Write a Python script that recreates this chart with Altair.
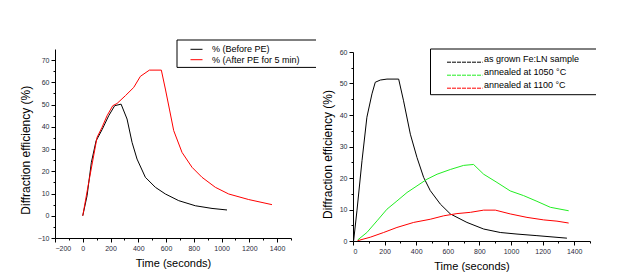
import altair as alt
import pandas as pd

# ---------------- data: left panel ----------------
before_t = [0, 31, 62, 96, 139, 187, 230, 276, 319, 355, 391, 451, 523, 595, 691, 811, 931, 1039]
before_v = [0, 9, 24, 33.7, 38.7, 45, 49.5, 50.2, 43.5, 33, 25.5, 17.3, 12.8, 9.8, 6.8, 4.5, 3.3, 2.6]

after_t = [0, 43, 103, 139, 175, 216, 247, 307, 367, 415, 480, 566, 595, 624, 655, 715, 787, 859, 955, 1051, 1195, 1363]
after_v = [0, 15, 35.3, 39.8, 45, 49.5, 50.5, 54, 57.7, 62.7, 65.5, 65.5, 57, 48, 38.3, 28.5, 21.8, 17.3, 12.8, 9.8, 7.3, 5]

left_labels = ["% (Before PE)", "% (After PE for 5 min)"]
left_colors = ["#000000", "#ff0000"]

# ---------------- data: right panel ----------------
grown_t = [4, 25, 57, 88, 120, 141, 173, 215, 289, 320, 363, 405, 447, 489, 553, 616, 721, 827, 932, 1038, 1164, 1354]
grown_v = [0.1, 9.6, 25.5, 39.3, 46.7, 50.4, 51.1, 51.4, 51.4, 44.5, 33.9, 26.5, 20.2, 16, 11.7, 8.6, 5.9, 3.8, 2.7, 2.2, 1.7, 0.9]

a1050_t = [29, 88, 152, 215, 278, 342, 405, 468, 532, 616, 700, 763, 827, 911, 995, 1080, 1164, 1249, 1365]
a1050_v = [0.3, 2.7, 6.4, 10.1, 12.7, 15.4, 17.5, 19.6, 21.2, 22.7, 24, 24.3, 21.2, 18.6, 15.9, 14.4, 12.6, 10.7, 9.6]

a1100_t = [29, 109, 194, 278, 384, 489, 574, 658, 743, 827, 901, 995, 1101, 1207, 1291, 1365]
a1100_v = [0.1, 1.2, 2.7, 4.3, 5.9, 6.9, 8.0, 8.7, 9.1, 9.8, 9.8, 8.6, 7.5, 6.7, 6.3, 5.7]

right_labels = ["as grown Fe:LN sample", "annealed at 1050 \u00b0C", "annealed at 1100 \u00b0C"]
right_colors = ["#000000", "#22ee22", "#ff0000"]

left_x_ticks = list(range(-200, 1501, 100))
left_y_ticks = list(range(-10, 71, 5))
right_x_ticks = list(range(0, 1501, 100))
right_y_ticks = list(range(0, 61, 5))

FONT = "Liberation Sans"
LBL = "#2a2a3a"


def frame(ts, vs, name, color):
    return pd.DataFrame({"t": ts, "v": vs, "s": name, "c": color})


left_df = pd.concat([frame(before_t, before_v, left_labels[0], left_colors[0]),
                     frame(after_t, after_v, left_labels[1], left_colors[1])])
right_df = pd.concat([frame(grown_t, grown_v, right_labels[0], right_colors[0]),
                      frame(a1050_t, a1050_v, right_labels[1], right_colors[1]),
                      frame(a1100_t, a1100_v, right_labels[2], right_colors[2])])


def axis(values, major, title, orient, tx=None, ty=None):
    kw = dict(
        values=values, title=title, grid=False, orient=orient, format="d",
        domainColor="black", tickColor="black", domainWidth=1, tickWidth=1,
        tickSize={"condition": {"test": f"datum.value % {major} === 0", "value": 4}, "value": 2},
        labelExpr=f"datum.value % {major} === 0 ? datum.label : ''",
        labelFont=FONT, labelFontSize=7, labelColor=LBL, labelPadding=2,
        titleFont=FONT, titleFontWeight="normal", titleColor="black",
        titleAlign="center", titleBaseline="middle",
    )
    if orient == "bottom":
        kw.update(titleFontSize=11, titleY=ty)
    else:
        kw.update(titleFontSize=12, titleAngle=270, titleX=tx, titleY=ty)
    return alt.Axis(**kw)


one = pd.DataFrame({"k": [0]})


def hrule(x1, x2, y, color="black", dash=None):
    m = alt.Chart(one).mark_rule(color=color, strokeWidth=1, strokeDash=dash) if dash else \
        alt.Chart(one).mark_rule(color=color, strokeWidth=1)
    return m.encode(x=alt.value(x1), x2=alt.value(x2), y=alt.value(y))


def vrule(x, y1, y2):
    return alt.Chart(one).mark_rule(color="black", strokeWidth=1).encode(
        x=alt.value(x), y=alt.value(y1), y2=alt.value(y2))


def label(x, y, text):
    return alt.Chart(one).mark_text(align="left", baseline="middle", font=FONT,
                                    fontSize=9, color="black").encode(
        x=alt.value(x), y=alt.value(y), text=alt.value(text))


# ---------------- left panel ----------------
left_lines = alt.Chart(left_df).mark_line(strokeWidth=1).encode(
    x=alt.X("t:Q", scale=alt.Scale(domain=[-200, 1500], nice=False, zero=False),
            axis=axis(left_x_ticks, 200, "Time (seconds)", "bottom", ty=25.5)),
    y=alt.Y("v:Q", scale=alt.Scale(domain=[-10, 75], nice=False, zero=False),
            axis=axis(left_y_ticks, 10, "Diffraction efficiency (%)", "left", tx=-29.5, ty=100.7)),
    color=alt.Color("c:N", scale=None),
    detail="s:N",
)

left_leg = [hrule(122, 261, -9), hrule(122, 261, 18.4), vrule(122, -9, 18.4)]
for i, (lab, col) in enumerate(zip(left_labels, left_colors)):
    yy = 0.3 + i * 10.4
    left_leg += [hrule(135.5, 147.5, yy, col), label(157, yy, lab)]

left = alt.layer(left_lines, *left_leg).properties(width=236, height=189)

# ---------------- right panel ----------------
right_lines = alt.Chart(right_df).mark_line(strokeWidth=1).encode(
    x=alt.X("t:Q", scale=alt.Scale(domain=[0, 1500], nice=False, zero=False),
            axis=axis(right_x_ticks, 200, "Time (seconds)", "bottom", ty=25.5)),
    y=alt.Y("v:Q", scale=alt.Scale(domain=[0, 60], nice=False, zero=False, range=[192, 3]),
            axis=axis(right_y_ticks, 10, "Diffraction efficiency (%)", "left", tx=-25.8, ty=105)),
    color=alt.Color("c:N", scale=None),
    detail="s:N",
)

right_leg = [hrule(77.5, 243, 0), hrule(77.5, 243, 45.7), vrule(77.5, 0, 45.7)]
for i, (lab, col) in enumerate(zip(right_labels, right_colors)):
    yy = 10 + i * 13
    right_leg += [hrule(94, 129.5, yy + 3.2, col, dash=[4, 1]), label(131, yy, lab)]

right = alt.layer(right_lines, *right_leg).properties(width=237, height=192)

chart = alt.hconcat(left, right, spacing=62, bounds="flush").properties(
    padding={"left": 11, "top": 31, "right": 5, "bottom": 5},
    background="white",
).configure_view(stroke=None)

chart.save("out.html", embed_options={"renderer": "svg", "actions": False})
